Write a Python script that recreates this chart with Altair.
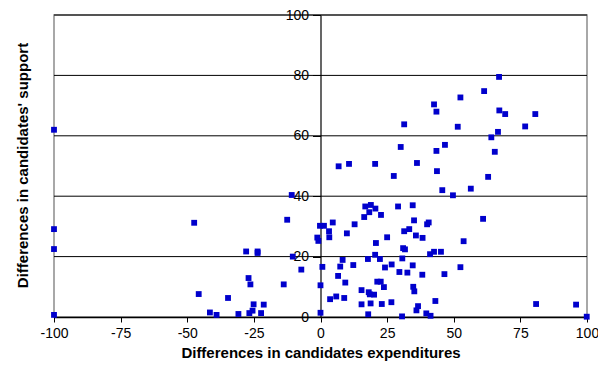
import altair as alt
import pandas as pd

# Differences in candidates expenditures (x) and candidates' support (y)
exp_diff = [
    -100, -100, -100, -100,
    -47.4, -45.7, -41.5, -39.0, -34.7, -30.8, -27.9, -27.0, -26.3, -26.7, -25.5, -25.1,
    -23.6, -23.6, -22.3, -21.3, -13.8, -12.5, -10.8, -10.4, -7.2, -1.2, -0.8, -0.2, 1.3,
    0.0, 0.0, 0.7, 6.8, 10.7, 20.5, 36.2, 27.5, 43.7, 45.7, 49.7,
    16.8, 18.9, 20.6, 18.3, 16.4, 22.7, 29.1, 34.6, 35.1, 40.6, 40.0, 33.3, 31.4, 35.8,
    38.3, 31.0, 31.7, 41.1, 42.6, 45.2, 4.6, 3.2, 3.3, 9.9, 12.8, 20.8, 25.0, 20.5, 17.8,
    22.3, 30.7, 8.3, 7.4, 12.3, 24.2, 26.7, 34.6, 29.6, 32.6, 38.2, 46.5, 6.6, 9.3, 21.3,
    22.6, 23.8, 34.8, 35.2, 15.4, 18.1, 18.5, 20.1, 3.6, 5.9, 8.9, 15.4, 18.8, 23.0, 26.6,
    43.1, 36.6, 36.0, 39.7, 41.3, 17.9, 30.6,
    56.4, 62.9, 61.0, 53.7, 52.5, 80.9, 95.9, 99.9,
    67.0, 61.4, 52.5, 67.1, 69.3, 80.6, 51.5, 76.8, 66.6, 64.1, 46.7, 65.4,
    42.6, 43.5, 31.4, 30.1, 43.5,
]
support_diff = [
    62.0, 29.1, 22.5, 0.7,
    31.2, 7.6, 1.5, 0.7, 6.3, 1.0, 21.7, 12.9, 10.8, 1.3, 2.1, 4.2,
    21.7, 21.2, 1.3, 4.1, 10.8, 32.2, 40.4, 20.0, 15.7, 26.3, 25.2, 30.2, 30.2,
    10.5, 1.4, 16.6, 49.9, 50.7, 50.7, 51.0, 46.7, 48.3, 42.0, 40.3,
    36.6, 37.1, 35.9, 34.7, 33.1, 33.8, 36.6, 37.0, 32.0, 31.3, 30.7, 29.1, 28.4, 27.0,
    26.2, 22.8, 22.4, 20.8, 21.6, 21.6, 31.3, 28.4, 26.4, 27.7, 30.7, 24.5, 26.4, 20.6, 19.2,
    19.2, 19.4, 18.9, 16.7, 17.2, 16.4, 17.4, 17.1, 14.9, 14.7, 14.0, 14.2, 13.6, 11.4, 11.7,
    11.7, 9.9, 10.0, 8.5, 8.9, 8.2, 7.5, 7.4, 5.9, 6.8, 6.3, 4.2, 4.5, 4.3, 4.9,
    5.3, 3.6, 2.2, 1.2, 0.4, 0.9, 0.2,
    42.5, 46.4, 32.5, 25.1, 16.5, 4.3, 4.1, 0.1,
    79.5, 74.8, 72.7, 68.4, 67.2, 67.2, 63.0, 63.1, 61.3, 59.5, 57.0, 54.7,
    70.4, 68.0, 63.8, 56.3, 55.0,
]
grid_values = [20, 40, 60, 80, 100]
x_ticks = [-100, -75, -50, -25, 0, 25, 50, 75, 100]
y_ticks = [0, 20, 40, 60, 80, 100]

df = pd.DataFrame({"x": exp_diff, "y": support_diff})
grid_df = pd.DataFrame({"g": grid_values})

FONT = "Liberation Sans"
W, H = 533, 302

xscale = alt.Scale(domain=[-100, 100], nice=False, zero=False)
yscale = alt.Scale(domain=[0, 100], nice=False, zero=False)

y_axis = alt.Axis(
    values=y_ticks,
    offset=-266.5,
    title="Differences in candidates' support",
    titleFont=FONT, titleFontSize=15, titleFontWeight="bold",
    titleColor="#000", titleAngle=270, titleAlign="center",
    titleBaseline="middle", titleX=-298, titleY=150,
    labelFont=FONT, labelFontSize=14, labelColor="#000",
    labelPadding=4, tickSize=8, tickColor="#000",
    domainColor="#000", domainWidth=1.2, grid=False,
    labelFlush=False,
)

x_axis = alt.Axis(
    values=x_ticks,
    labelExpr="toString(datum.value)",
    title="Differences in candidates expenditures",
    titleFont=FONT, titleFontSize=15, titleFontWeight="bold",
    titleColor="#000", titlePadding=5,
    labelFont=FONT, labelFontSize=14, labelColor="#000",
    labelPadding=4, tickSize=5, tickColor="#000",
    domainColor="#000", domainWidth=1.5, grid=False,
    labelFlush=False,
)

grid = alt.Chart(grid_df).mark_rule(color="#000000", strokeWidth=1).encode(
    y=alt.Y("g:Q", scale=yscale, axis=y_axis)
)

points = alt.Chart(df).mark_square(
    color="#0000CC", filled=True, size=34, opacity=1
).encode(
    x=alt.X("x:Q", scale=xscale, axis=x_axis),
    y=alt.Y("y:Q", scale=yscale, axis=y_axis),
)

chart = alt.layer(grid, points).properties(
    width=W, height=H,
    autosize=alt.AutoSizeParams(type="none"),
    padding={"left": 46, "top": 7, "right": 11, "bottom": 44},
    background="#ffffff",
).configure_view(
    stroke="#8c8c8c", strokeWidth=1.5
)

chart.save("out.html", embed_options={"renderer": "svg", "actions": False})
